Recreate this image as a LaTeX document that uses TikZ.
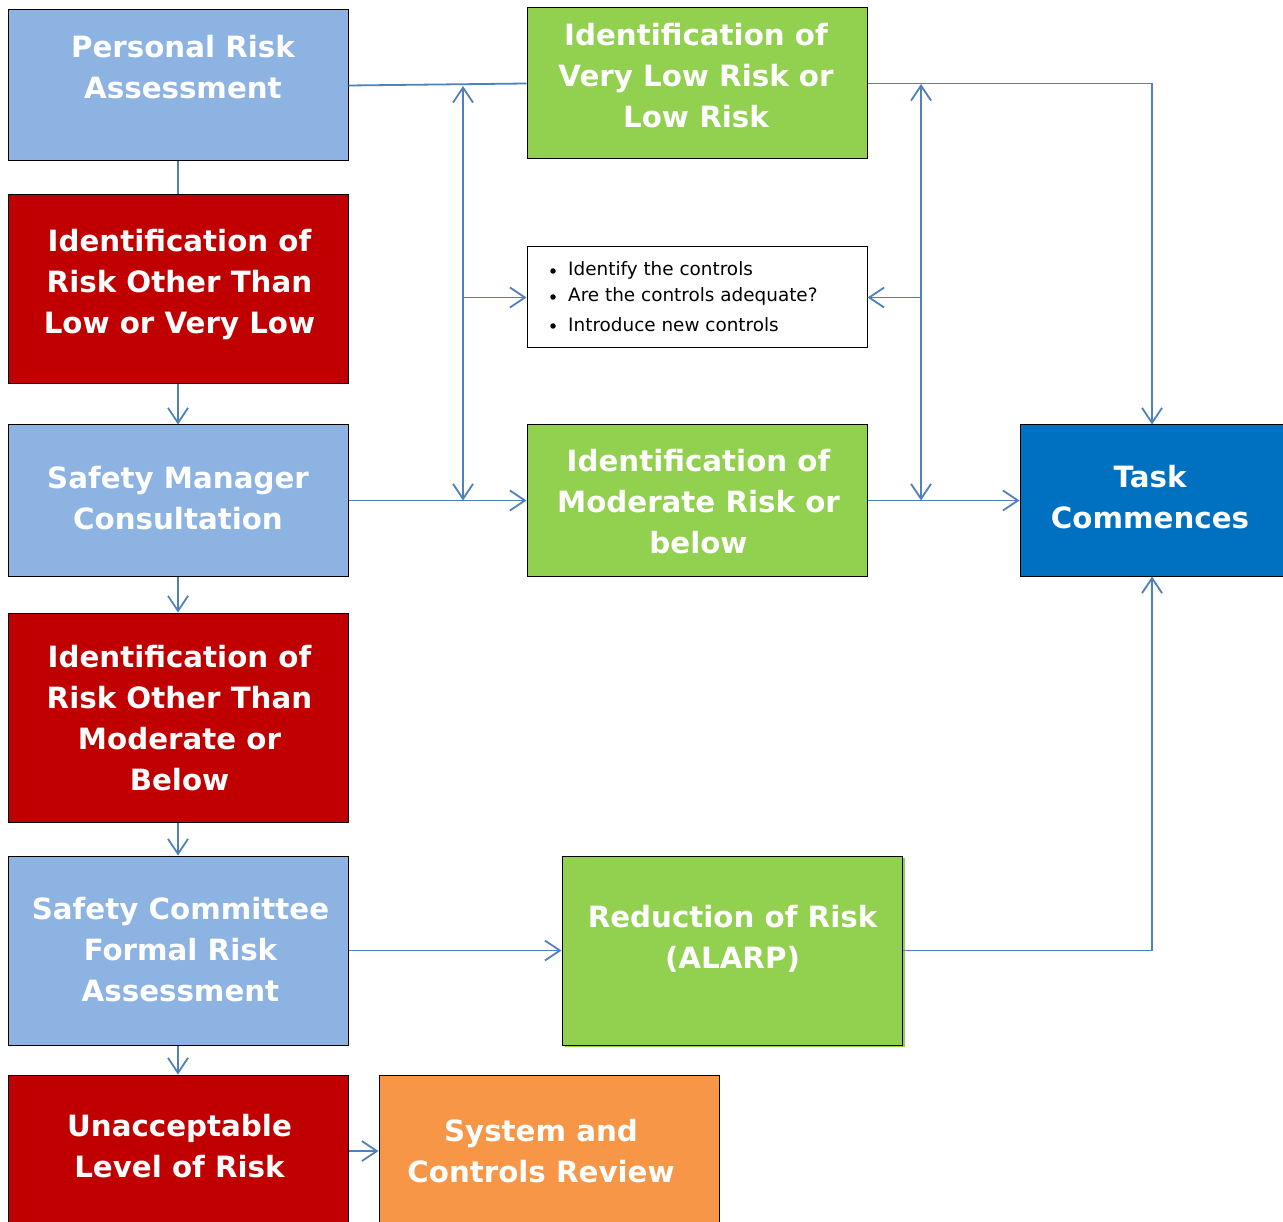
\documentclass[tikz,border=0pt]{standalone}
\usepackage{fontspec}
\setmainfont{DejaVu Sans}
\usetikzlibrary{arrows.meta}
\definecolor{lblue}{HTML}{8DB3E2}
\definecolor{dred}{HTML}{C00000}
\definecolor{lgreen}{HTML}{92D050}
\definecolor{dblue}{HTML}{0070C0}
\definecolor{orng}{HTML}{F79646}
\definecolor{conncol}{HTML}{4F81BD}
\begin{document}
\begin{tikzpicture}[x=1pt,y=-1pt,
  box/.style={draw=black, line width=1pt, inner sep=0pt, minimum width=340pt, minimum height=#1},
  lbl/.style={text=white, align=center, inner sep=0pt, font=\fontsize{29.3}{41}\selectfont\bfseries},
  btxt/.style={anchor=west, inner sep=0pt, font=\fontsize{18.4}{20}\selectfont},
  dot/.style={circle, fill=black, inner sep=0pt, minimum size=5.5pt},
  conn/.style={draw=conncol, line width=1.8pt},
  arr/.style={conn, -{Straight Barb[length=15pt,width=20pt]}},
  darr/.style={conn, {Straight Barb[length=15pt,width=20pt]}-{Straight Barb[length=15pt,width=20pt]}}
]
\useasboundingbox (0,0) rectangle (1283,1222);
\fill[white] (0,0) rectangle (1283,1222);

% boxes
\node[box=151pt, fill=lblue] (pra) at (178,85.5) {};
\node[box=189pt, fill=dred] (red1) at (178,289.5) {};
\node[box=151pt, fill=lblue] (smc) at (178,500.5) {};
\node[box=209pt, fill=dred] (red2) at (178,717.5) {};
\node[box=189pt, fill=lblue] (scfra) at (178,950.5) {};
\node[box=152pt, fill=dred] (unacc) at (178,1151) {};
\node[box=152pt, fill=orng] (sys) at (549,1151) {};
\node[box=151pt, fill=lgreen] (gtop) at (697,83.5) {};
\node[box=101pt, fill=white] (bul) at (697,297.5) {};
\node[box=151pt, fill=lgreen] (gmod) at (697,500.5) {};
\node[box=151pt, fill=dblue, minimum width=264pt] (task) at (1152,500.5) {};
\node[fill=lgreen, inner sep=0pt, minimum width=340pt, minimum height=189pt] (redsh) at (734.5,952) {};
\node[box=189pt, fill=lgreen] (red) at (732,950.5) {};

% labels
\node[lbl] (tpra) at (183,67.5) {Personal Risk\\Assessment};
\node[lbl] (tred1) at (179.5,285) {Identification of\\Risk Other Than\\Low or Very Low};
\node[lbl] (tsmc) at (178,498) {Safety Manager\\Consultation};
\node[lbl] (tred2) at (179.5,718.5) {Identification of\\Risk Other Than\\Moderate or\\Below};
\node[lbl] (tscfra) at (180.5,950) {Safety Committee\\Formal Risk\\Assessment};
\node[lbl] (tunacc) at (179.5,1146) {Unacceptable\\Level of Risk};
\node[lbl] (tsys) at (541,1151) {System and\\Controls Review};
\node[lbl] (tgtop) at (696,76) {Identification of\\Very Low Risk or\\Low Risk};
\node[lbl] (tgmod) at (698.5,502) {Identification of\\Moderate Risk or\\below};
\node[lbl] (ttask) at (1150,497) {Task\\Commences};
\node[lbl] (tred) at (732.5,938.5) {Reduction of Risk\\(ALARP)};

% bullet list
\node[btxt] (b1) at (568,270) {Identify the controls};
\node[btxt] (b2) at (568,296) {Are the controls adequate?};
\node[btxt] (b3) at (568,325) {Introduce new controls};
\node[dot] (d1) at (553,271) {};
\node[dot] (d2) at (553,297) {};
\node[dot] (d3) at (553,326) {};

% coordinates
\coordinate (v1t) at (463,86);
\coordinate (v1m) at (463,297.5);
\coordinate (v1b) at (463,500.5);
\coordinate (v2t) at (921,84);
\coordinate (v2m) at (921,297.5);
\coordinate (v2b) at (921,500.5);

% connectors
\draw[conn] (pra.east) -- (gtop.west);
\draw[conn] (pra.south) -- (red1.north);
\draw[arr] (red1.south) -- (smc.north);
\draw[arr] (smc.east) -- (gmod.west);
\draw[darr] (v1t) -- (v1b);
\draw[arr] (v1m) -- (bul.west);
\draw[darr] (v2t) -- (v2b);
\draw[arr] (v2m) -- (bul.east);
\draw[arr] (gtop.east) -| (task.north);
\draw[arr] (gmod.east) -- (task.west);
\draw[arr] (smc.south) -- (red2.north);
\draw[arr] (red2.south) -- (scfra.north);
\draw[arr] (scfra.east) -- (red.west);
\draw[arr] (red.east) -| (task.south);
\draw[arr] (scfra.south) -- (unacc.north);
\draw[arr] (unacc.east) -- (sys.west);
\end{tikzpicture}
\end{document}
